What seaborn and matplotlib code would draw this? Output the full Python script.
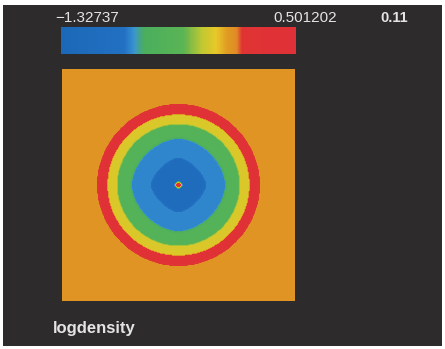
import numpy as np
import matplotlib
matplotlib.use("Agg")
import matplotlib.pyplot as plt
from matplotlib.colors import LinearSegmentedColormap
from matplotlib.patches import Rectangle
import seaborn as sns

# colour scale limits shown above the colourbar
vmin = -1.32737
vmax = 0.501202
time_label = "0.11"
field_name = "logdensity"

# radial bands of log density (outer radius as fraction of half-width, value)
band_edges = [0.03, 0.23, 0.41, 0.525, 0.615, 0.695]
band_values = [0.40, -1.10, -0.79, -0.50, -0.16, 0.28]
ambient_value = 0.0

# colour table
cmap_stops = [0.00, 0.27, 0.31, 0.35, 0.52, 0.60, 0.66, 0.71, 0.75, 0.77, 1.00]
cmap_colors = ["#1c68b8", "#2270c2", "#3a94d4", "#4aae5e", "#5ab454", "#c0c832",
               "#e8c828", "#e09a22", "#e08a26", "#e03434", "#e03038"]

sns.set_style("dark")
plt.rcParams["font.family"] = ["Liberation Sans", "DejaVu Sans"]

bg = "#2d2b2b"
txt = "#e4e4e4"

# build the 2d field from the bands
n = 233
x = np.linspace(-1, 1, n)
xx, yy = np.meshgrid(x, x)
r_circ = np.sqrt(xx ** 2 + yy ** 2)
r_diam = (np.abs(xx) ** 1.5 + np.abs(yy) ** 1.5) ** (1 / 1.5)
w = np.clip((0.5 - r_circ) / 0.3, 0, 1)
r = w * r_diam + (1 - w) * r_circ
field = np.full((n, n), ambient_value)
idx = np.digitize(r, band_edges)
for i, v in enumerate(band_values):
    field[idx == i] = v

# soften the band edges a little, like the scanned original
k = np.ones(3) / 3
field = np.apply_along_axis(lambda a: np.convolve(np.pad(a, 1, mode="edge"), k, "valid"), 0, field)
field = np.apply_along_axis(lambda a: np.convolve(np.pad(a, 1, mode="edge"), k, "valid"), 1, field)

cmap = LinearSegmentedColormap.from_list("vis", list(zip(cmap_stops, cmap_colors)))

fig = plt.figure(figsize=(4.45, 3.49), dpi=100, facecolor="white")
fig.patches.append(Rectangle((3 / 445, 3 / 349), 439 / 445, 341 / 349,
                             transform=fig.transFigure, facecolor=bg,
                             edgecolor="none", zorder=-10))

ax = fig.add_axes([62 / 445, 48 / 349, 233 / 445, 232 / 349])
cax = fig.add_axes([61 / 445, 295 / 349, 235 / 445, 27 / 349])

sns.heatmap(field, ax=ax, cmap=cmap, vmin=vmin, vmax=vmax, cbar=True, cbar_ax=cax,
            cbar_kws={"orientation": "horizontal"},
            xticklabels=False, yticklabels=False, rasterized=True)
ax.set_xlabel("")
ax.set_ylabel("")
for s in ax.spines.values():
    s.set_visible(False)

cb = ax.collections[0].colorbar
cb.outline.set_visible(False)
cb.set_ticks([])
cax.tick_params(length=0)

fig.text(55 / 445, 1 - 18 / 349, f"\u2212{abs(vmin):g}", color=txt, fontsize=11,
         ha="left", va="center")
fig.text(337 / 445, 1 - 18 / 349, f"{vmax:g}", color=txt, fontsize=11,
         ha="right", va="center")
fig.text(380 / 445, 1 - 18 / 349, time_label, color=txt, fontsize=10.5,
         fontweight="bold", ha="left", va="center")
fig.text(53 / 445, 1 - 328 / 349, field_name, color=txt, fontsize=12,
         fontweight="bold", ha="left", va="center")

fig.savefig("out.png", dpi=100, facecolor=fig.get_facecolor())
